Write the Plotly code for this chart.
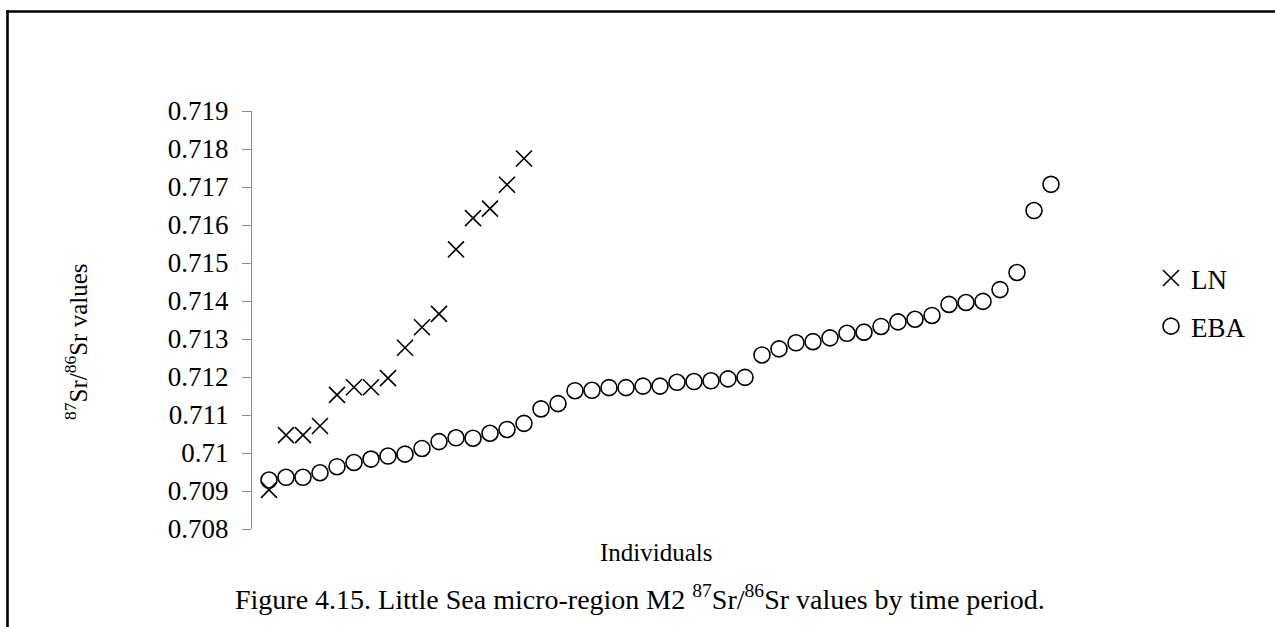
import plotly.graph_objects as go

# ---- data ----
ln_values = [0.70903, 0.71047, 0.71047, 0.71071, 0.71153, 0.71173, 0.71173, 0.71197,
             0.71277, 0.71331, 0.71366, 0.71536, 0.71618, 0.71643, 0.71706, 0.71775]
eba_values = [0.70929, 0.70936, 0.70936, 0.70948, 0.70964, 0.70975, 0.70984, 0.70992,
              0.70997, 0.71012, 0.71030, 0.71040, 0.71039, 0.71052, 0.71062, 0.71078,
              0.71116, 0.71130, 0.71164, 0.71165, 0.71172, 0.71172, 0.71176, 0.71176,
              0.71186, 0.71188, 0.71190, 0.71195, 0.71199, 0.71258, 0.71274, 0.71290,
              0.71293, 0.71303, 0.71315, 0.71318, 0.71333, 0.71345, 0.71352, 0.71362,
              0.71391, 0.71396, 0.71399, 0.71430, 0.71475, 0.71638, 0.71707]
ln_x = list(range(1, len(ln_values) + 1))
eba_x = list(range(1, len(eba_values) + 1))
tick_vals = [0.708, 0.709, 0.710, 0.711, 0.712, 0.713, 0.714, 0.715, 0.716, 0.717, 0.718, 0.719]
tick_text = ["0.708", "0.709", "0.71", "0.711", "0.712", "0.713", "0.714", "0.715",
             "0.716", "0.717", "0.718", "0.719"]

FONT = "Liberation Serif, Times New Roman, serif"

fig = go.Figure()
fig.add_trace(go.Scatter(
    x=ln_x, y=ln_values, mode="markers", name="LN", legendgroup="a",
    marker=dict(symbol="x-thin", size=16, color="black",
                line=dict(color="black", width=1.6)),
))
fig.add_trace(go.Scatter(
    x=eba_x, y=eba_values, mode="markers", name="EBA", legendgroup="b",
    marker=dict(symbol="circle-open", size=16, color="black",
                line=dict(color="black", width=1.6)),
))

L, R, T, B = 252, 1102, 111, 529
W, H = 1275, 627


def px(xp):
    return (xp - L) / (R - L)


def py(yp):
    return (B - yp) / (B - T)


fig.update_layout(
    width=W, height=H,
    margin=dict(l=L, r=W - R, t=T, b=H - B, pad=0),
    paper_bgcolor="white", plot_bgcolor="white",
    font=dict(family=FONT, color="black", size=26),
    xaxis=dict(range=[0, 50], visible=False, showgrid=False, zeroline=False),
    yaxis=dict(range=[0.708, 0.719], tickvals=tick_vals, ticktext=tick_text,
               showgrid=False, zeroline=False, showline=True,
               linecolor="#8c8c8c", linewidth=1.3,
               ticks="outside", ticklen=9, tickcolor="#8c8c8c", tickwidth=1.3,
               tickfont=dict(family=FONT, size=27, color="black"),
               ticklabelstandoff=8),
    showlegend=True,
    legend=dict(x=px(1151), y=py(254), xanchor="left", yanchor="top",
                font=dict(family=FONT, size=27, color="black"),
                tracegroupgap=10, bgcolor="rgba(0,0,0,0)"),
    shapes=[
        dict(type="line", xref="paper", yref="paper",
             x0=px(6), x1=px(1280), y0=py(11.5), y1=py(11.5),
             line=dict(color="black", width=2.6)),
        dict(type="line", xref="paper", yref="paper",
             x0=px(7.5), x1=px(7.5), y0=py(10.2), y1=py(640),
             line=dict(color="black", width=2.6)),
    ],
    annotations=[
        dict(text="<sup>87</sup>Sr/<sup>86</sup>Sr values", textangle=-90,
             xref="paper", yref="paper", x=px(76), y=py(342),
             xanchor="center", yanchor="middle",
             showarrow=False, font=dict(family=FONT, size=25, color="black")),
        dict(text="Individuals", xref="paper", yref="paper",
             x=px(656), y=py(552), xanchor="center", yanchor="middle",
             showarrow=False, font=dict(family=FONT, size=25, color="black")),
        dict(text="Figure 4.15. Little Sea micro-region M2 <sup>87</sup>Sr/<sup>86</sup>Sr values by time period.",
             xref="paper", yref="paper", x=px(640), y=py(597),
             xanchor="center", yanchor="middle", showarrow=False,
             font=dict(family=FONT, size=28, color="black")),
    ],
)

fig.write_html("out.html")
